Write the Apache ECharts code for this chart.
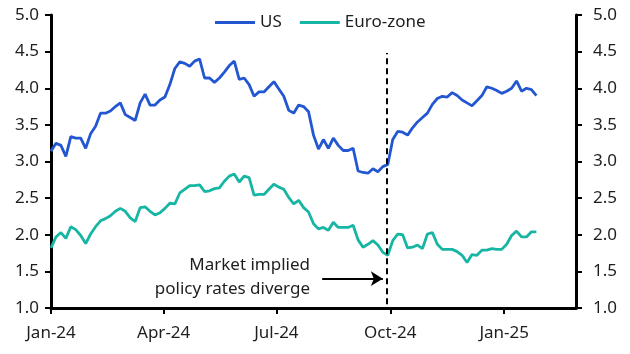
<!DOCTYPE html>
<html>
<head>
<meta charset="utf-8">
<script src="https://cdn.jsdelivr.net/npm/echarts@6/dist/echarts.min.js"></script>
<style>
  html, body { margin: 0; padding: 0; background: #fff; }
  #chart { width: 630px; height: 354px; }
</style>
</head>
<body>
<div id="chart"></div>
<script>
// sample dates, every 4 days
const dates = [
  '2024-01-01', '2024-01-05', '2024-01-09', '2024-01-13', '2024-01-17', '2024-01-21', '2024-01-25', '2024-01-29',
  '2024-02-02', '2024-02-06', '2024-02-10', '2024-02-14', '2024-02-18', '2024-02-22', '2024-02-26', '2024-03-01',
  '2024-03-05', '2024-03-09', '2024-03-13', '2024-03-17', '2024-03-21', '2024-03-25', '2024-03-29', '2024-04-02',
  '2024-04-06', '2024-04-10', '2024-04-14', '2024-04-18', '2024-04-22', '2024-04-26', '2024-04-30', '2024-05-04',
  '2024-05-08', '2024-05-12', '2024-05-16', '2024-05-20', '2024-05-24', '2024-05-28', '2024-06-01', '2024-06-05',
  '2024-06-09', '2024-06-13', '2024-06-17', '2024-06-21', '2024-06-25', '2024-06-29', '2024-07-03', '2024-07-07',
  '2024-07-11', '2024-07-15', '2024-07-19', '2024-07-23', '2024-07-27', '2024-07-31', '2024-08-04', '2024-08-08',
  '2024-08-12', '2024-08-16', '2024-08-20', '2024-08-24', '2024-08-28', '2024-09-01', '2024-09-05', '2024-09-09',
  '2024-09-13', '2024-09-17', '2024-09-21', '2024-09-25', '2024-09-29', '2024-10-03', '2024-10-07', '2024-10-11',
  '2024-10-15', '2024-10-19', '2024-10-23', '2024-10-27', '2024-10-31', '2024-11-04', '2024-11-08', '2024-11-12',
  '2024-11-16', '2024-11-20', '2024-11-24', '2024-11-28', '2024-12-02', '2024-12-06', '2024-12-10', '2024-12-14',
  '2024-12-18', '2024-12-22', '2024-12-26', '2024-12-30', '2025-01-03', '2025-01-07', '2025-01-11', '2025-01-15',
  '2025-01-19', '2025-01-23', '2025-01-27'
];

const usRates = [
  3.14, 3.25, 3.22, 3.07, 3.34, 3.32, 3.32, 3.18, 3.38, 3.48,
  3.66, 3.66, 3.69, 3.75, 3.80, 3.64, 3.60, 3.56, 3.80, 3.92,
  3.77, 3.77, 3.84, 3.88, 4.05, 4.27, 4.36, 4.34, 4.30, 4.37,
  4.40, 4.14, 4.14, 4.08, 4.14, 4.22, 4.31, 4.37, 4.12, 4.14,
  4.05, 3.89, 3.95, 3.95, 4.02, 4.09, 3.99, 3.89, 3.70, 3.66,
  3.77, 3.75, 3.68, 3.36, 3.17, 3.30, 3.18, 3.32, 3.22, 3.15,
  3.15, 3.18, 2.87, 2.85, 2.84, 2.90, 2.86, 2.93, 2.96, 3.30,
  3.41, 3.40, 3.36, 3.46, 3.54, 3.60, 3.66, 3.78, 3.86, 3.89,
  3.88, 3.94, 3.90, 3.84, 3.80, 3.76, 3.83, 3.90, 4.02, 4.00,
  3.97, 3.93, 3.96, 4.00, 4.10, 3.96, 4.00, 3.98, 3.90
];

const ezRates = [
  1.82, 1.97, 2.03, 1.95, 2.11, 2.07, 1.99, 1.88, 2.01, 2.11,
  2.19, 2.22, 2.26, 2.32, 2.36, 2.32, 2.23, 2.18, 2.37, 2.38,
  2.32, 2.27, 2.30, 2.36, 2.43, 2.42, 2.57, 2.62, 2.67, 2.67,
  2.68, 2.59, 2.60, 2.63, 2.64, 2.73, 2.80, 2.83, 2.72, 2.80,
  2.78, 2.54, 2.55, 2.55, 2.62, 2.69, 2.65, 2.62, 2.51, 2.42,
  2.47, 2.37, 2.31, 2.15, 2.08, 2.10, 2.06, 2.17, 2.10, 2.10,
  2.10, 2.13, 1.93, 1.83, 1.87, 1.92, 1.86, 1.76, 1.72, 1.92,
  2.01, 2.00, 1.82, 1.83, 1.86, 1.81, 2.01, 2.03, 1.87, 1.80,
  1.80, 1.80, 1.77, 1.72, 1.62, 1.73, 1.72, 1.79, 1.79, 1.81,
  1.80, 1.80, 1.87, 1.99, 2.05, 1.97, 1.97, 2.04, 2.04
];

const xTicks = ['2024-01-01', '2024-04-01', '2024-07-01', '2024-10-01', '2025-01-01'];
const divergeDate = '2024-09-28';

const months = ['Jan', 'Feb', 'Mar', 'Apr', 'May', 'Jun', 'Jul', 'Aug', 'Sep', 'Oct', 'Nov', 'Dec'];
const font = 'Noto Sans';
const textColor = '#1e1e1e';

function toTime(s) {
  let p = s.split('-');
  return new Date(+p[0], +p[1] - 1, +p[2]).getTime();
}

let usData = dates.map((d, i) => [toTime(d), usRates[i]]);
let ezData = dates.map((d, i) => [toTime(d), ezRates[i]]);
let tickTimes = xTicks.map(toTime);

function yAxisOpt(pos, margin) {
  return {
    type: 'value',
    position: pos,
    min: 1,
    max: 5,
    interval: 0.5,
    axisLine: { show: true, lineStyle: { color: '#000', width: 3 } },
    axisTick: { show: true, length: 6, lineStyle: { color: '#000', width: 2 } },
    axisLabel: {
      margin: margin,
      fontSize: 17,
      fontFamily: font,
      color: textColor,
      formatter: (v) => v.toFixed(1),
    },
    splitLine: { show: false },
  };
}

let chart = echarts.init(document.getElementById('chart'));
let option = {
  animation: false,
  grid: { left: 51, right: 54, top: 15, bottom: 46, containLabel: false },
  legend: {
    left: 210,
    top: 9,
    icon: 'rect',
    itemWidth: 40,
    itemHeight: 3,
    itemGap: 18,
    textStyle: { fontSize: 17, fontFamily: font, color: textColor },
    data: ['US', 'Euro-zone'],
  },
  xAxis: {
    // plain value axis holding timestamps, so the quarter ticks can be placed exactly
    type: 'value',
    min: toTime('2024-01-01'),
    max: toTime('2025-02-28'),
    axisLine: { lineStyle: { color: '#000', width: 3 } },
    axisTick: { show: true, length: 6, customValues: tickTimes, lineStyle: { color: '#000', width: 2 } },
    axisLabel: {
      customValues: tickTimes,
      margin: 17,
      fontSize: 17,
      fontFamily: font,
      color: textColor,
      hideOverlap: false,
      showMinLabel: true,
      formatter: (val) => {
        let d = new Date(val);
        return months[d.getMonth()] + '-' + String(d.getFullYear()).slice(2);
      },
    },
    splitLine: { show: false },
  },
  yAxis: [yAxisOpt('left', 12), yAxisOpt('right', 17)],
  series: [
    {
      name: 'US',
      type: 'line',
      data: usData,
      showSymbol: false,
      color: '#2356D1',
      lineStyle: { width: 2.8 },
      markLine: {
        silent: true,
        animation: false,
        label: { show: false },
        data: [
          [
            { coord: [toTime(divergeDate), 1.05], symbol: 'none', lineStyle: { type: [6, 4], color: '#000', width: 2 } },
            { coord: [toTime(divergeDate), 4.48], symbol: 'none' },
          ],
          [
            { coord: [toTime('2024-08-07'), 1.4], symbol: 'none', lineStyle: { type: 'solid', color: '#000', width: 2 } },
            { coord: [toTime('2024-09-25'), 1.4], symbol: 'arrow', symbolSize: [11, 12] },
          ],
        ],
      },
    },
    {
      name: 'Euro-zone',
      type: 'line',
      data: ezData,
      showSymbol: false,
      color: '#17B5A3',
      lineStyle: { width: 2.8 },
    },
  ],
  graphic: [
    {
      type: 'text',
      x: 310,
      y: 253,
      style: {
        text: 'Market implied\npolicy rates diverge',
        align: 'right',
        verticalAlign: 'top',
        fontSize: 17,
        fontFamily: font,
        lineHeight: 24,
        fill: textColor,
      },
    },
  ],
};
chart.setOption(option);
</script>
</body>
</html>
